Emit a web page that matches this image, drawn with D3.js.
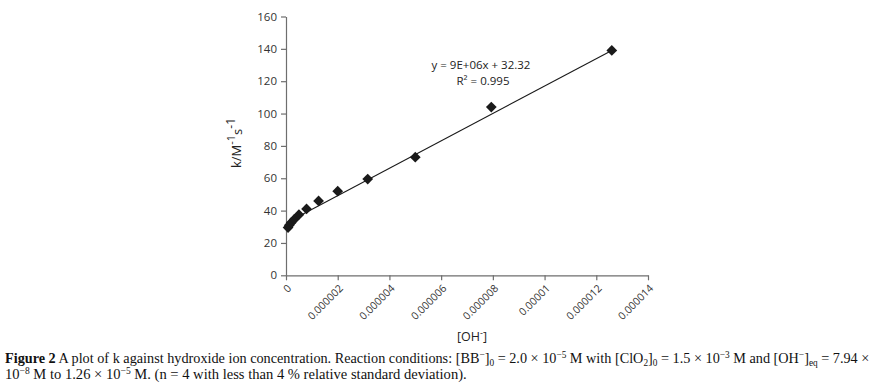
<!DOCTYPE html>
<html><head><meta charset="utf-8">
<script src="https://cdn.jsdelivr.net/npm/d3@7"></script>
<style>body{margin:0;background:#fff;} svg{display:block;}</style>
</head><body>
<svg id="c" width="877" height="388"></svg>
<script>
// Data
const ohConc = [7.94e-8, 1.26e-7, 2.0e-7, 3.16e-7, 5.0e-7, 7.94e-7, 1.26e-6, 2.0e-6, 3.16e-6, 5.0e-6, 7.94e-6, 1.26e-5];
const kValues = [29.5, 31, 32.5, 34.5, 37.5, 41, 46, 52, 59.5, 73, 104, 139];
const xTicks = [0, 0.000002, 0.000004, 0.000006, 0.000008, 0.00001, 0.000012, 0.000014];
const xTickLabels = ["0", "0.000002", "0.000004", "0.000006", "0.000008", "0.00001", "0.000012", "0.000014"];
const yTicks = [0, 20, 40, 60, 80, 100, 120, 140, 160];
const trendSlope = [8.47e6];
const trendIntercept = [32.32];
const eqLines = ["y = 9E+06x + 32.32", "R² = 0.995"];

const svg = d3.select("#c");
const L = 286, R = 648, T = 16.5, B = 275.3;
const x = d3.scaleLinear().domain([0, 0.000014]).range([L, R]);
const y = d3.scaleLinear().domain([0, 160]).range([B, T]);
const axisColor = "#6e6e6e";
const tickFont = "'Open Sans', 'Liberation Sans', sans-serif";

// Y axis
const ya = svg.append("g").attr("transform", `translate(${L},0)`)
  .call(d3.axisLeft(y).tickValues(yTicks).tickSize(5).tickPadding(4).tickSizeOuter(0));
ya.select(".domain").attr("stroke", axisColor).attr("stroke-width", 1.2);
ya.selectAll(".tick line").attr("stroke", axisColor).attr("stroke-width", 1.2);
ya.selectAll(".tick text").attr("font-family", tickFont).attr("font-size", 11.5).attr("fill", "#333");

// X axis
const xa = svg.append("g").attr("transform", `translate(0,${B})`)
  .call(d3.axisBottom(x).tickValues(xTicks).tickFormat((d, i) => xTickLabels[i]).tickSize(5).tickSizeOuter(0));
xa.select(".domain").attr("stroke", axisColor).attr("stroke-width", 1.2);
xa.selectAll(".tick line").attr("stroke", axisColor).attr("stroke-width", 1.2);
xa.selectAll(".tick text")
  .attr("font-family", tickFont).attr("font-size", 10.5).attr("fill", "#333")
  .attr("text-anchor", "end").attr("dy", "0.35em")
  .attr("transform", "translate(3,11) rotate(-45)")
  .attr("y", 0).attr("x", 0);

// Trendline over data range
const xmin = d3.min(ohConc), xmax = d3.max(ohConc);
svg.append("line")
  .attr("x1", x(xmin)).attr("y1", y(trendIntercept[0] + trendSlope[0] * xmin))
  .attr("x2", x(xmax)).attr("y2", y(trendIntercept[0] + trendSlope[0] * xmax))
  .attr("stroke", "#1a1a1a").attr("stroke-width", 1.1);

// Markers (diamonds)
svg.append("g").selectAll("rect").data(ohConc).join("rect")
  .attr("x", -3.8).attr("y", -3.8).attr("width", 7.6).attr("height", 7.6)
  .attr("fill", "#1a1a1a")
  .attr("transform", (d, i) => `translate(${x(d)},${y(kValues[i])}) rotate(45)`);

// Equation text
svg.append("text").attr("x", 481).attr("y", 69).attr("text-anchor", "middle")
  .attr("font-family", tickFont).attr("font-size", 11.5).attr("fill", "#222").text(eqLines[0]);
svg.append("text").attr("x", 483).attr("y", 85).attr("text-anchor", "middle")
  .attr("font-family", tickFont).attr("font-size", 11.5).attr("fill", "#222").text(eqLines[1]);

// Y axis title
const yt = svg.append("text").attr("transform", "translate(241,143) rotate(-90)")
  .attr("text-anchor", "middle").attr("font-family", tickFont).attr("font-size", 13).attr("fill", "#222");
yt.append("tspan").text("k/M");
yt.append("tspan").attr("dy", -6).attr("font-size", 11).text("-1");
yt.append("tspan").attr("dy", 7).text("s");
yt.append("tspan").attr("dy", -7).attr("font-size", 12).text("-1");

// X axis title
const xt = svg.append("text").attr("x", 472).attr("y", 341).attr("text-anchor", "middle")
  .attr("font-family", tickFont).attr("font-size", 12.5).attr("fill", "#222");
xt.append("tspan").text("[OH");
xt.append("tspan").attr("dy", -5).attr("font-size", 9).text("-");
xt.append("tspan").attr("dy", 5).text("]");

// Caption: segments [text, kind] with kind n=normal, b=bold, p=superscript, s=subscript
const capFont = "'Liberation Serif', 'DejaVu Serif', serif";
function caption(yPos, targetW, segs) {
  const t = svg.append("text").attr("x", 5).attr("y", yPos)
    .attr("font-family", capFont).attr("font-size", 14.5).attr("fill", "#111");
  let cur = 0;
  segs.forEach(([s, k]) => {
    const target = k === "p" ? -5 : k === "s" ? 3 : 0;
    const ts = t.append("tspan").text(s).attr("dy", target - cur);
    cur = target;
    if (k === "b") ts.attr("font-weight", "bold");
    if (k === "p" || k === "s") ts.attr("font-size", 9.5);
  });
  const w = t.node().getBBox().width;
  t.attr("transform", `translate(5,0) scale(${targetW / w},1) translate(-5,0)`);
}
caption(363, 865, [
  ["Figure 2", "b"], [" A plot of k against hydroxide ion concentration. Reaction conditions: [BB", "n"],
  ["−", "p"], ["]", "n"], ["0", "s"], [" = 2.0 × 10", "n"], ["−5", "p"], [" M with [ClO", "n"], ["2", "s"],
  ["]", "n"], ["0", "s"], [" = 1.5 × 10", "n"], ["−3", "p"], [" M and [OH", "n"], ["−", "p"], ["]", "n"],
  ["eq", "s"], [" = 7.94 ×", "n"]
]);
caption(379, 462, [
  ["10", "n"], ["−8", "p"], [" M to 1.26 × 10", "n"], ["−5", "p"],
  [" M. (n = 4 with less than 4 % relative standard deviation).", "n"]
]);
</script>
</body></html>
